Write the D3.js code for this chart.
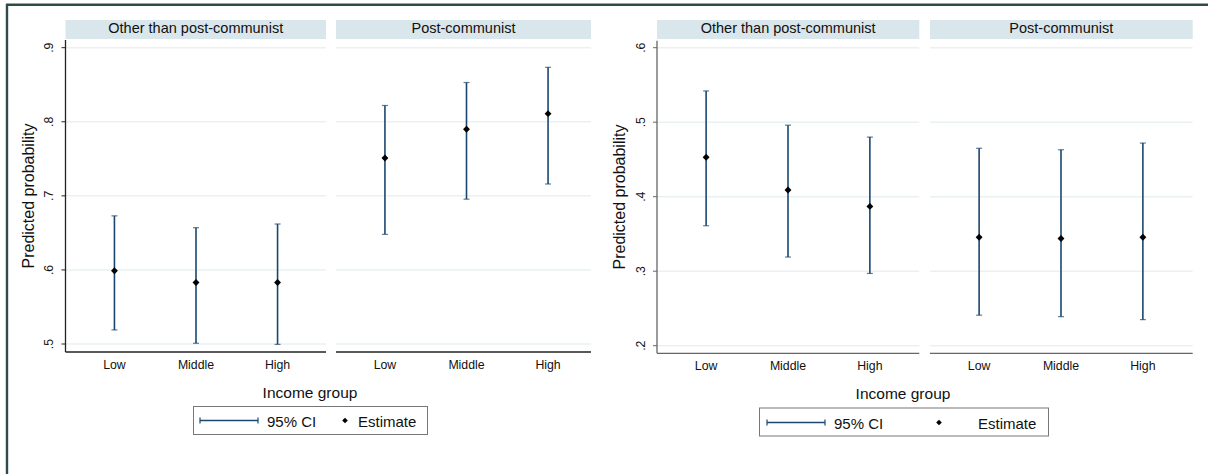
<!DOCTYPE html>
<html>
<head>
<meta charset="utf-8">
<script src="https://cdn.jsdelivr.net/npm/d3@7"></script>
<style>
  html, body { margin: 0; padding: 0; background: #fff; }
  svg { display: block; font-family: "Liberation Sans", Arial, sans-serif; }
</style>
</head>
<body>
<svg id="chart" width="1208" height="474"></svg>
<script>
// ---------------- DATA ----------------
const incomeGroups = ["Low", "Middle", "High"];
const panelTitles = ["Other than post-communist", "Post-communist"];

// Left chart
const leftEstOther = [0.599, 0.583, 0.583];
const leftLoOther  = [0.519, 0.501, 0.4995];
const leftHiOther  = [0.673, 0.657, 0.662];
const leftEstPost  = [0.751, 0.790, 0.811];
const leftLoPost   = [0.648, 0.6955, 0.716];
const leftHiPost   = [0.822, 0.853, 0.8735];
const leftTicks = [0.5, 0.6, 0.7, 0.8, 0.9];
const leftTickLabels = [".5", ".6", ".7", ".8", ".9"];

// Right chart
const rightEstOther = [0.453, 0.409, 0.387];
const rightLoOther  = [0.361, 0.319, 0.297];
const rightHiOther  = [0.542, 0.496, 0.480];
const rightEstPost  = [0.3455, 0.344, 0.3455];
const rightLoPost   = [0.241, 0.239, 0.235];
const rightHiPost   = [0.465, 0.463, 0.472];
const rightTicks = [0.2, 0.3, 0.4, 0.5, 0.6];
const rightTickLabels = [".2", ".3", ".4", ".5", ".6"];

const yTitle = "Predicted probability";
const xTitle = "Income group";
const legendLabels = ["95% CI", "Estimate"];

// ---------------- STYLE / LAYOUT ----------------
const navy = "#1a476f";
const stripFill = "#d9e6eb";
const gridColor = "#eaf1f3";

const svg = d3.select("#chart");

// outer frame (top & left)
svg.append("line").attr("x1", 6).attr("x2", 1208).attr("y1", 3.5).attr("y2", 3.5)
  .attr("stroke", "#9aa5a5").attr("stroke-width", 1);
svg.append("line").attr("x1", 6).attr("x2", 1208).attr("y1", 5).attr("y2", 5)
  .attr("stroke", "#2f4a4c").attr("stroke-width", 2);
svg.append("line").attr("x1", 7).attr("x2", 7).attr("y1", 4).attr("y2", 474)
  .attr("stroke", "#2f4a4c").attr("stroke-width", 2.4);

// custom Stata-like diamond symbol
const stataDiamond = {
  draw(context, size) {
    const r = Math.sqrt(size / 2);
    context.moveTo(0, -r);
    context.lineTo(r, 0);
    context.lineTo(0, r);
    context.lineTo(-r, 0);
    context.closePath();
  }
};

const charts = [
  {
    ticks: leftTicks, tickLabels: leftTickLabels,
    series: [
      { est: leftEstOther, lo: leftLoOther, hi: leftHiOther },
      { est: leftEstPost, lo: leftLoPost, hi: leftHiPost }
    ],
    panels: [{ x0: 65.5, w: 260.5, span: 261 }, { x0: 336, w: 255, span: 261 }],
    yRange: [344, 47.7], yTop: 40, yBot: 352,
    axisColor: "#222", tickLabelX: 49, yTitleX: 28,
    xLabelY: 368.5, xTitleX: 310, xTitleY: 397.5,
    legend: { x: 193.5, y: 406.5, w: 234, h: 28, lx1: 200, lx2: 258, ly: 420.5,
              t1x: 267, dx: 345, t2x: 358, ty: 426.5 }
  },
  {
    ticks: rightTicks, tickLabels: rightTickLabels,
    series: [
      { est: rightEstOther, lo: rightLoOther, hi: rightHiOther },
      { est: rightEstPost, lo: rightLoPost, hi: rightHiPost }
    ],
    panels: [{ x0: 657, w: 262.3, span: 262 }, { x0: 930, w: 262.7, span: 262 }],
    yRange: [345.7, 47.7], yTop: 40.7, yBot: 353.3,
    axisColor: "#666", tickLabelX: 641, yTitleX: 619,
    xLabelY: 370, xTitleX: 903, xTitleY: 398.5,
    legend: { x: 759.5, y: 408, w: 289, h: 28, lx1: 767, lx2: 825, ly: 422.5,
              t1x: 834, dx: 939, t2x: 978, ty: 429 }
  }
];

charts.forEach(c => {
  const g = svg.append("g");
  const y = d3.scaleLinear().domain([c.ticks[0], c.ticks[c.ticks.length - 1]]).range(c.yRange);

  c.panels.forEach((p, pi) => {
    const x = d3.scaleLinear().domain([0.4, 3.6]).range([p.x0, p.x0 + p.span]);
    const pg = g.append("g");

    // strip
    pg.append("rect").attr("x", p.x0).attr("y", 20).attr("width", p.w).attr("height", 19)
      .attr("fill", stripFill);
    pg.append("text").attr("x", p.x0 + p.w / 2).attr("y", 33)
      .attr("text-anchor", "middle").attr("font-size", 14.5).attr("fill", "#111")
      .text(panelTitles[pi]);

    // gridlines
    pg.selectAll(".grid").data(c.ticks).join("line")
      .attr("x1", p.x0).attr("x2", p.x0 + p.w)
      .attr("y1", d => y(d)).attr("y2", d => y(d))
      .attr("stroke", gridColor).attr("stroke-width", 1.5);

    // x axis line
    pg.append("line").attr("x1", p.x0).attr("x2", p.x0 + p.w)
      .attr("y1", c.yBot).attr("y2", c.yBot)
      .attr("stroke", c.axisColor).attr("stroke-width", 1.3);

    // x tick labels
    pg.selectAll(".xl").data(incomeGroups).join("text")
      .attr("x", (d, i) => x(i + 1)).attr("y", c.xLabelY)
      .attr("text-anchor", "middle").attr("font-size", 12.3).attr("fill", "#111")
      .text(d => d);

    const s = c.series[pi];
    const idx = d3.range(incomeGroups.length);
    // CI lines
    pg.selectAll(".ci").data(idx).join("line")
      .attr("x1", i => x(i + 1)).attr("x2", i => x(i + 1))
      .attr("y1", i => y(s.lo[i])).attr("y2", i => y(s.hi[i]))
      .attr("stroke", navy).attr("stroke-width", 1.6);
    // caps
    ["lo", "hi"].forEach(k => {
      pg.selectAll(".cap" + k).data(idx).join("line")
        .attr("x1", i => x(i + 1) - 3).attr("x2", i => x(i + 1) + 3)
        .attr("y1", i => y(s[k][i])).attr("y2", i => y(s[k][i]))
        .attr("stroke", navy).attr("stroke-opacity", 0.7).attr("stroke-width", 1.2);
    });
    // markers
    pg.selectAll(".pt").data(idx).join("path")
      .attr("transform", i => `translate(${x(i + 1)},${y(s.est[i])})`)
      .attr("d", d3.symbol().type(stataDiamond).size(24))
      .attr("fill", "#000");
  });

  // y axis
  const p0 = c.panels[0];
  g.append("line").attr("x1", p0.x0).attr("x2", p0.x0).attr("y1", c.yTop).attr("y2", c.yBot)
    .attr("stroke", c.axisColor).attr("stroke-width", 1.3);
  g.selectAll(".yt").data(c.ticks).join("line")
    .attr("x1", p0.x0 - 4).attr("x2", p0.x0).attr("y1", d => y(d)).attr("y2", d => y(d))
    .attr("stroke", c.axisColor).attr("stroke-width", 1);
  g.selectAll(".ytl").data(c.ticks).join("text")
    .attr("transform", d => `translate(${c.tickLabelX + 4},${y(d)}) rotate(-90)`)
    .attr("text-anchor", "middle").attr("font-size", 12.3).attr("fill", "#111")
    .text((d, i) => c.tickLabels[i]);

  // y title
  g.append("text")
    .attr("transform", `translate(${c.yTitleX + 5.5},${(c.yTop + c.yBot) / 2}) rotate(-90)`)
    .attr("text-anchor", "middle").attr("font-size", 16).attr("fill", "#111")
    .text(yTitle);

  // x title
  g.append("text").attr("x", c.xTitleX).attr("y", c.xTitleY)
    .attr("text-anchor", "middle").attr("font-size", 15.5).attr("fill", "#111")
    .text(xTitle);

  // legend
  const L = c.legend;
  g.append("rect").attr("x", L.x).attr("y", L.y).attr("width", L.w).attr("height", L.h)
    .attr("fill", "#fff").attr("stroke", "#777").attr("stroke-width", 1);
  g.append("line").attr("x1", L.lx1).attr("x2", L.lx2).attr("y1", L.ly).attr("y2", L.ly)
    .attr("stroke", navy).attr("stroke-width", 1.4);
  [L.lx1, L.lx2].forEach(xx => {
    g.append("line").attr("x1", xx).attr("x2", xx).attr("y1", L.ly - 3).attr("y2", L.ly + 3)
      .attr("stroke", navy).attr("stroke-width", 1.2);
  });
  g.append("text").attr("x", L.t1x).attr("y", L.ty).attr("font-size", 15).attr("fill", "#111")
    .text(legendLabels[0]);
  g.append("path").attr("transform", `translate(${L.dx},${L.ly})`)
    .attr("d", d3.symbol().type(stataDiamond).size(16)).attr("fill", "#000");
  g.append("text").attr("x", L.t2x).attr("y", L.ty).attr("font-size", 15).attr("fill", "#111")
    .text(legendLabels[1]);
});
</script>
</body>
</html>
